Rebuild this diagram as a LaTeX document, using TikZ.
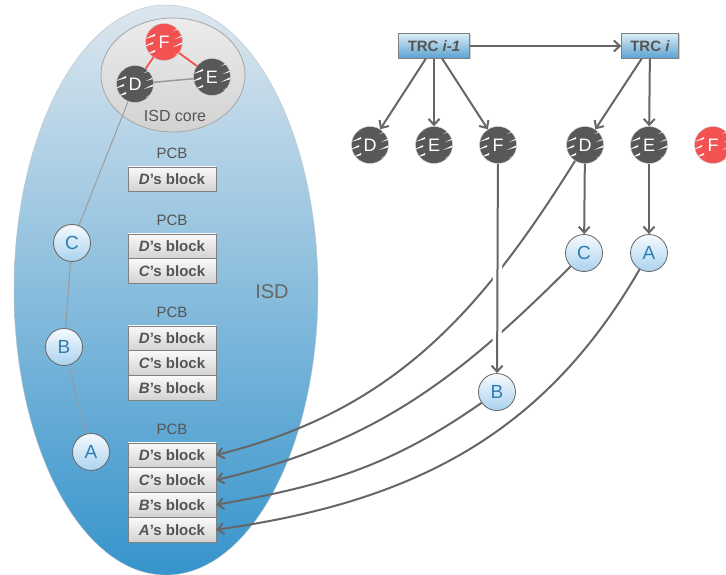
\documentclass[tikz,border=0pt]{standalone}
\usepackage{fontspec}
\setmainfont{Liberation Sans}
\usetikzlibrary{positioning,arrows.meta,shadows}

\definecolor{isdtop}{RGB}{220,230,238}
\definecolor{isdbot}{RGB}{54,148,204}
\definecolor{isdline}{RGB}{185,192,198}
\definecolor{certgray}{RGB}{88,88,88}
\definecolor{certred}{RGB}{242,82,82}
\definecolor{astop}{RGB}{246,250,254}
\definecolor{asbot}{RGB}{170,210,238}
\definecolor{astext}{RGB}{45,125,180}
\definecolor{trctop}{RGB}{220,236,246}
\definecolor{trcbot}{RGB}{88,162,208}
\definecolor{inktext}{RGB}{85,85,85}
\definecolor{arrowgray}{RGB}{102,102,102}

\begin{document}
\begin{tikzpicture}[x=1pt, y=1pt,
  arr/.style={draw=arrowgray, line width=2pt, -{Straight Barb[length=6pt,width=11pt]}},
  link/.style={draw=gray!80, line width=0.9pt},
  redlink/.style={draw=certred, line width=1.8pt},
  hatched/.style={path picture={
    \foreach \h/\s in {-13/2,-5/0,3/2,11/0}{
      \foreach \w in {-21,9}{
        \fill[white] ([shift={(\w pt+\s pt,\h pt)}]path picture bounding box.center)
          -- ++(10pt,3pt) -- ++(0pt,2pt) -- cycle;
      }}}},
  cert/.style={circle, minimum size=37pt, inner sep=0pt, fill=certgray, draw=gray!40,
    text=white, font=\fontsize{18}{18}\selectfont, hatched},
  certr/.style={cert, fill=certred},
  asnode/.style={circle, minimum size=37pt, inner sep=0pt, draw=arrowgray, line width=0.8pt,
    top color=astop, bottom color=asbot, text=astext, font=\fontsize{19}{19}\selectfont},
  blk/.style={rectangle, minimum width=88pt, minimum height=24.5pt, inner sep=0pt,
    draw=gray, top color=white!96!gray, bottom color=gray!35, text=inktext,
    font=\fontsize{15}{15}\selectfont\bfseries,
    drop shadow={opacity=0.35, shadow xshift=1pt, shadow yshift=-1pt}},
  pcb/.style={text=inktext, font=\fontsize{15}{15}\selectfont},
  trc/.style={rectangle, minimum height=25pt, inner sep=0pt, draw=gray,
    top color=trctop, bottom color=trcbot, text=inktext,
    font=\fontsize{15}{15}\selectfont\bfseries,
    drop shadow={opacity=0.35, shadow xshift=1pt, shadow yshift=-1pt}}]
  \useasboundingbox (0,0) rectangle (726,-575);

  % Draw the ISD and its core
  \draw[draw=isdline, top color=isdtop, bottom color=isdbot] (166,-290) ellipse [x radius=152, y radius=285];
  \draw[draw=gray!70, top color=gray!15, bottom color=gray!35, line width=0.8pt] (173,-75) ellipse [x radius=72, y radius=57];
  \node[text=gray!80!black, font=\fontsize{20}{20}\selectfont] (isd) at (272,-292) {ISD};
  \node[text=inktext, font=\fontsize{16}{16}\selectfont] (corelbl) at (175,-116) {ISD core};

  % Draw the core ASes
  \node[certr] (cf) at (164,-42) {F};
  \node[cert] (cd) at (135,-84) {D};
  \node[cert] (ce) at (212,-77) {E};
  \draw[redlink] (cf) -- (cd);
  \draw[redlink] (cf) -- (ce);
  \draw[link, line width=1.5pt] (cd) -- (ce);

  % Draw the path of ASes
  \node[asnode] (lc) at (72,-243) {C};
  \node[asnode] (lb) at (64,-347) {B};
  \node[asnode] (la) at (91,-452) {A};
  \draw[link] (cd) -- (lc);
  \draw[link] (lc) -- (lb);
  \draw[link] (lb) -- (la);

  % Draw the PCBs
  \node[pcb] (pcb1) at (172,-153) {PCB};
  \node[blk] (pcb1d) at (172,-179) {\textit{D}'s block};

  \node[pcb] (pcb2) at (172,-220) {PCB};
  \node[blk] (pcb2d) at (172,-246) {\textit{D}'s block};
  \node[blk, below=0pt of pcb2d] (pcb2c) {\textit{C}'s block};

  \node[pcb] (pcb3) at (172,-312) {PCB};
  \node[blk] (pcb3d) at (172,-338) {\textit{D}'s block};
  \node[blk, below=0pt of pcb3d] (pcb3c) {\textit{C}'s block};
  \node[blk, below=0pt of pcb3c] (pcb3b) {\textit{B}'s block};

  \node[pcb] (pcb4) at (172,-429) {PCB};
  \node[blk] (pcb4d) at (172,-455) {\textit{D}'s block};
  \node[blk, below=0pt of pcb4d] (pcb4c) {\textit{C}'s block};
  \node[blk, below=0pt of pcb4c] (pcb4b) {\textit{B}'s block};
  \node[blk, below=0pt of pcb4b] (pcb4a) {\textit{A}'s block};

  % Draw the TRCs
  \node[trc, minimum width=71pt] (trc1) at (434,-46) {TRC \textit{i-1}};
  \node[trc, minimum width=57pt] (trc2) at (650,-46) {TRC \textit{i}};
  \draw[arr] (trc1) -- (trc2);

  % Draw the core ASes of each TRC
  \node[cert] (d1) at (370,-145) {D};
  \node[cert] (e1) at (434,-145) {E};
  \node[cert] (f1) at (498,-145) {F};
  \node[cert] (d2) at (585,-145) {D};
  \node[cert] (e2) at (649,-145) {E};
  \node[certr] (f2) at (713,-145) {F};
  \draw[arr] (trc1) -- (d1);
  \draw[arr] (trc1) -- (e1);
  \draw[arr] (trc1) -- (f1);
  \draw[arr] (trc2) -- (d2);
  \draw[arr] (trc2) -- (e2);

  % Draw the ASes below
  \node[asnode] (rc) at (584,-253) {C};
  \node[asnode] (ra) at (649,-253) {A};
  \node[asnode] (rb) at (497,-392) {B};
  \draw[arr] (d2) -- (rc);
  \draw[arr] (e2) -- (ra);

  % Draw the curves to the blocks
  \draw[arr] (d2) to[out=238, in=14] (pcb4d.east);
  \draw[arr] (rc) to[out=225, in=13] (pcb4c.east);
  \draw[arr] (rb) to[out=215, in=10] (pcb4b.east);
  \draw[arr] (ra) to[out=240, in=8] (pcb4a.east);

  % Draw F over the curves
  \draw[arr, preaction={draw=white, line width=9pt, -}] (f1) -- (rb);
\end{tikzpicture}
\end{document}
